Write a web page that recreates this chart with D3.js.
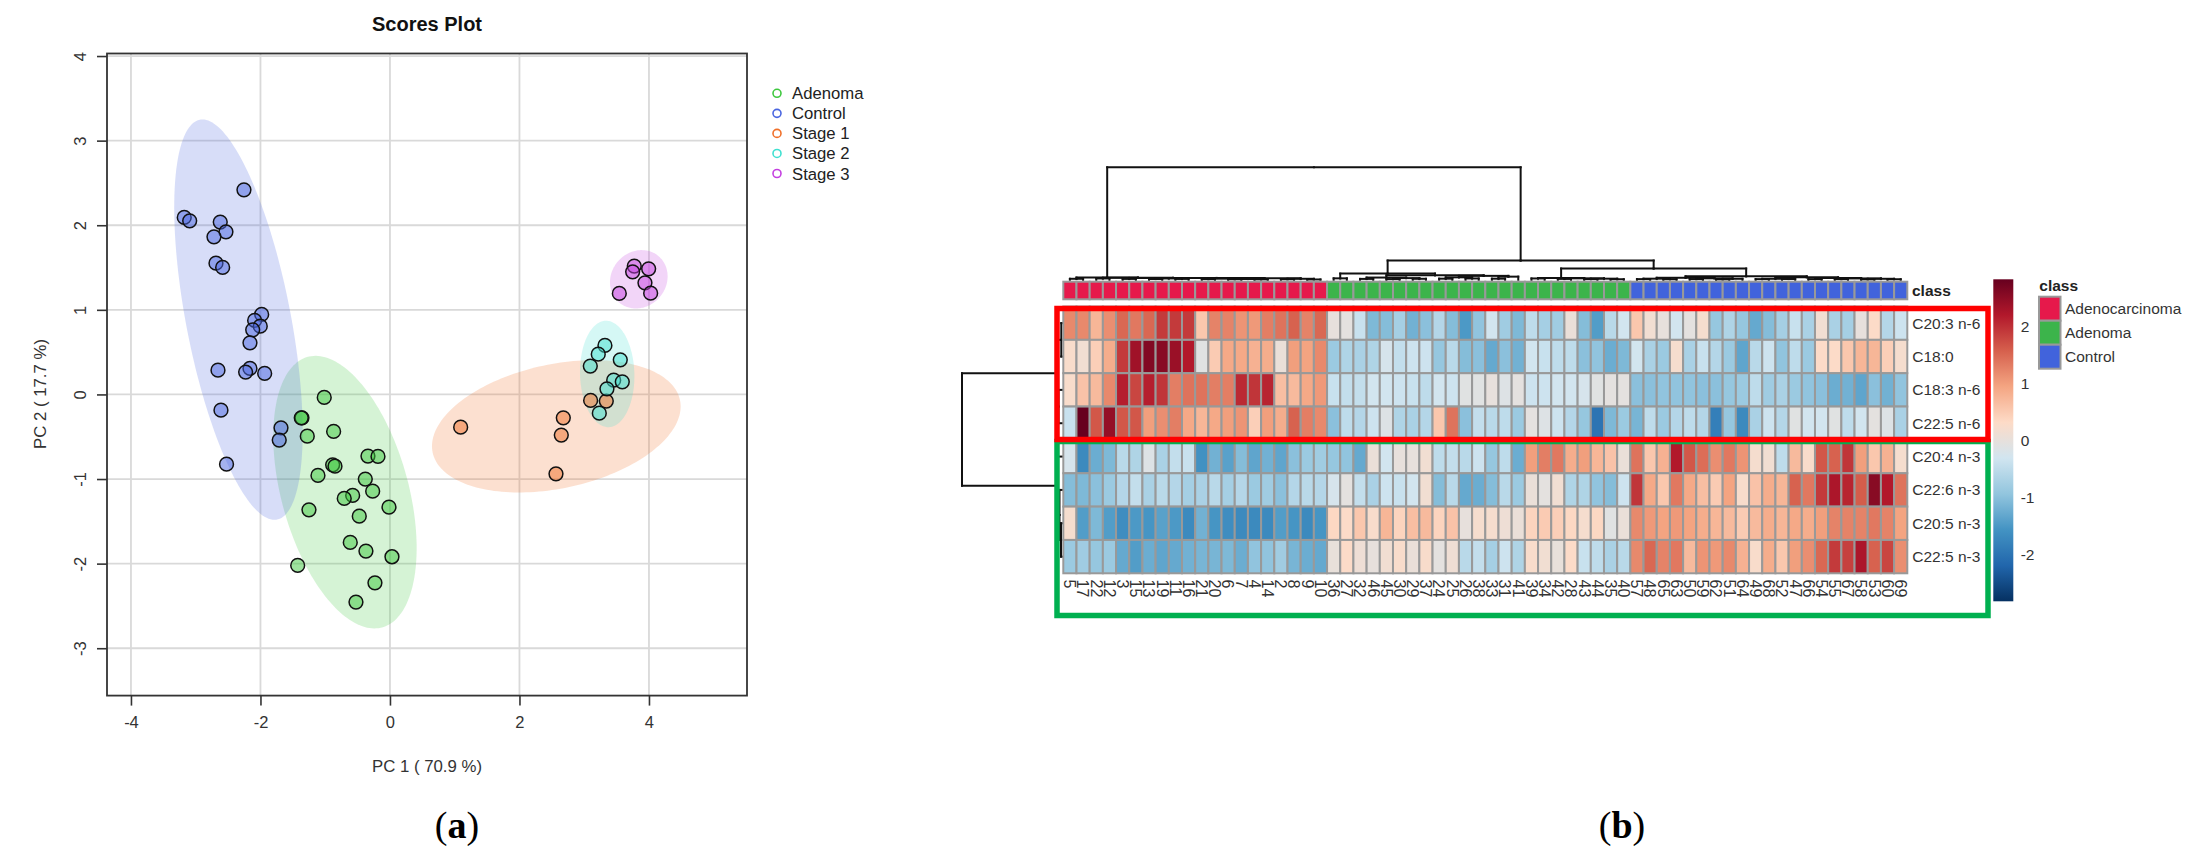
<!DOCTYPE html>
<html><head><meta charset="utf-8">
<script src="https://cdn.jsdelivr.net/npm/d3@7"></script>
<style>html,body{margin:0;padding:0;background:#fff}svg{display:block}text{font-family:"Liberation Sans",Arial,sans-serif}</style>
</head><body><svg id="c" width="2193" height="859"></svg>
<script>
// ---------- Panel (a) data: PCA scores [PC1, PC2]
const adenoma=[[-1.015,-.035],[-1.359,-.277],[-1.37,-.277],[-1.277,-.493],[-.87,-.437],[-.34,-.729],[-.185,-.733],[-.885,-.832],[-.849,-.848],[-1.112,-.957],[-.381,-1.001],[-.267,-1.143],[-.576,-1.194],[-.706,-1.229],[-.015,-1.332],[-1.251,-1.364],[-.474,-1.439],[-.613,-1.749],[-.371,-1.852],[.031,-1.919],[-1.425,-2.021],[-.232,-2.227],[-.525,-2.455]];
const control=[[-2.255,2.418],[-3.177,2.092],[-3.093,2.052],[-2.621,2.037],[-2.533,1.922],[-2.718,1.863],[-2.687,1.552],[-2.584,1.501],[-1.981,.946],[-2.09,.875],[-2.003,.807],[-2.12,.764],[-2.162,.61],[-2.656,.287],[-2.162,.307],[-2.229,.264],[-1.935,.248],[-1.683,-.395],[-1.71,-.54],[-2.61,-.186],[-2.524,-.824]];
const stage1=[[1.092,-.387],[2.677,-.277],[2.646,-.481],[2.564,-.939],[3.099,-.071],[3.341,-.079]];
const stage2=[[3.32,.579],[3.217,.476],[3.557,.409],[3.094,.335],[3.455,.169],[3.588,.149],[3.351,.066],[3.233,-.221]];
const stage3=[[3.773,1.517],[3.748,1.449],[3.995,1.485],[3.938,1.319],[4.026,1.197],[3.542,1.194]];
const groupNames=["Adenoma","Control","Stage 1","Stage 2","Stage 3"];
const groupColors=["#3ec83e","#4a66e0","#f0702a","#3fe0d0","#c440e0"];
const groupPoints=[adenoma,control,stage1,stage2,stage3];
// ellipse: centre x, centre y, sd-x, sd-y, correlation
const groupEllipses=[[-.695,-1.155,1.107,1.611,-.41],[-2.34,.884,.992,2.366,-.56],[2.569,-.377,1.92,.782,.3],[3.355,.242,.42,.629,-.04],[3.843,1.361,.445,.345,.1]];
const xTicks=[-4,-2,0,2,4];
const yTicks=[-3,-2,-1,0,1,2,3,4];

// ---------- Panel (b) data
const colLabels=[5,17,22,12,3,15,13,19,11,16,21,20,6,7,4,14,2,8,9,10,36,27,32,46,45,30,29,37,24,25,26,38,33,31,41,39,34,42,28,43,44,35,40,57,48,65,63,50,59,62,51,64,49,68,52,47,66,54,55,67,58,53,60,69];
const rowLabels=["C20:3 n-6","C18:0","C18:3 n-6","C22:5 n-6","C20:4 n-3","C22:6 n-3","C20:5 n-3","C22:5 n-3"];
const r_c203n6=[1.2,1.2,.75,1.15,1.5,1.35,1.5,1.9,1.9,1.9,.55,1.25,1.25,1.1,1.05,1.3,1.4,1.55,1.25,1.5, 0,-.05,-.4, -1.1,-1.05,-.75,-1.2,-1,-.6,-1.05,-1.5,-.95,-.3,-.8,-1.1,-.5,-.75,-.8,.05,-1.05,-1.45,-.55,-.3, .55,.15,0, -.3,-.05,.2,-.9,-.65,-.9,-1.3,-1.05,-.75,-.4,-.7,.15,-.7,-.75,0,.3,-.6,-.35];
const r_c180=[.25,.15,.45,.85,1.9,2.35,2.6,2.55,2.4,2.2,-.1,.5,.9,.9,.8,.85,.05,1,.95,1.2, -.85,-.65,-.7, -.65,-.25,-.45,-.35,-.35,-.9,-.55,-1.05,-1,-1.3,-1,-1.2,-.3,-.4,-.5,-.5,-1,-.95,-1.25,-1.1, -.3,-.7,-.85, .2,-.7,-.4,-.6,-.85,-1.35,-.55,-.35,-.95,-.5,-.85,.3,.3,.55,.75,.75,.45,.2];
const r_c183n6=[.25,.6,.7,1.2,2.15,1.8,2.15,1.95,1.3,1.4,1.4,1.3,1.3,2.05,1.95,2.1,.65,.7,.9,1.05, -.4,-.45,-.45, -.3,-.3,-.35,-.4,-.5,-.3,-.35,-.1,-.1,0,-.15,-.05,-.35,-.35,-.3,-.3,-.25,-.1,-.05,-.05, -1,-1,-.95, -.95,-.95,-1,-1,-.9,-.85,-.5,-.8,-.7,-.85,-.95,-1,-1.25,-1.2,-1.35,-1,-1.2,-.95];
const r_c225n6=[-.4,2.83,1.65,2.45,1.65,1.65,1,1.15,1.3,.9,.75,.9,1,1.1,.45,1,.85,1.55,1.3,1.2, -1,-.5,-.6, -.35,-.15,-.65,-.7,-.6,.55,1.4,-1,-.45,-.55,-.5,-.85,-.05,-.15,-.35,-.6,-.9,-2,-1.1,-.85, -1.15,-.5,-.85, -.6,-.5,-.6,-1.85,-.9,-1.7,-.7,-.35,-.6,-.1,-.3,-.3,-.1,-.5,-.3,-.05,-.15,-.7];
const r_c204n3=[-.25,-1.7,-1.25,-1.1,-.55,-.65,-.15,-.7,-.45,-.4,-1.6,-1.2,-1.4,-1.05,-1.35,-1.2,-1.35,-1,-.85,-.8, -.9,-.95,-1.3, .05,-.3,0,0,.15,-.5,-.45,-.55,-.35,-.9,-.5,-1.25,1,1.3,1.35,.85,1,.75,.6,.05, 1.4,.55,.8, 2.2,1.65,1.45,1.15,1.35,1.1,.2,.15,-.5,.7,.25,1.65,1.55,1.95,1,.55,.8,.2];
const r_c226n3=[-1.05,-1.1,-1,-.85,-.6,-.45,-.7,-.55,-.6,-.75,-.7,-.55,-.75,-.6,-.85,-.8,-1,-.6,-.55,-.6, -.25,-.05,-.45, -.7,-.35,-.4,-.3,.15,-1.05,-.55,-1.3,-1.25,-1.05,-.55,-.85,.05,-.05,.15,-.65,-.65,-.95,-1.05,-.35, 1.95,.9,.55, 1.35,.9,.65,.5,.95,.25,.6,.85,.75,1.55,1.35,1.9,2.25,2.1,1.6,2.55,2.2,1.4];
const r_c205n3=[.2,-1.45,-1.1,-1.45,-1.65,-1.5,-1.55,-1.4,-1.5,-1.7,-1.2,-1.55,-1.65,-1.7,-1.7,-1.7,-1.45,-1.55,-1.7,-1.55, .35,.3,.55, .25,.75,.4,.65,.7,.4,.6,0,.2,.2,.1,.05,.4,.5,.45,.35,.2,.35,-.1,.05, 1.2,1.05,.95, 1.05,.95,.85,.75,.7,.5,.7,.85,.75,.9,.85,1,1.25,1.25,1.25,1.35,1.25,.95];
const r_c225n3=[-.85,-.8,-.9,-.85,-1.3,-1.45,-1.25,-1.35,-1.3,-1.2,-1.15,-1.15,-1.1,-1.25,-.95,-.95,-.8,-1.15,-1.25,-1.3, .02,.3,.1, 0,.15,.25,.05,.25,-.05,.12,-.55,-.45,-.75,-.35,-.65,.25,.15,.02,.3,-.4,-.5,-.7,-.55, 1.2,1.5,1.25, 1.35,.7,1.1,1.05,1.2,.8,.25,.85,.55,1,1.15,1.5,1.9,1.85,2.25,1.55,1.8,1.15];
const heatRows=[r_c203n6,r_c180,r_c183n6,r_c225n6,r_c204n3,r_c226n3,r_c205n3,r_c225n3];
const classNames=["Adenocarcinoma","Adenoma","Control"];
const classColors=["#e6194b","#3cb44b","#4163dc"];
const classCounts=[20,23,21];
const rdbu=["#053061","#2166AC","#4393C3","#92C5DE","#D1E5F0","#FDDBC7","#F4A582","#D6604D","#B2182B","#67001F"];
const colorTicks=[-2,-1,0,1,2];
// dendrograms: [height, left, right]; a bare number is a leaf index
const colTree=[100,
 [2,[.9,0,1],[1.8,[1.2,2,3],[1.7,[.8,4,5],[1.5,[1.2,[.7,6,7],[.8,8,9]],[1.3,[1,[.6,10,11],[.7,[.5,12,13],[.4,14,15]]],[.9,[.5,16,17],[.3,18,19]]]]]]],
 [17.1,
  [5.5,[1.3,20,21],[4,[2,[.8,22,23],[1.5,[.6,24,25],[.9,26,27]]],[3.5,[2.2,[1,28,29],[1.2,30,31]],[2.8,[1,32,33],34]]]],
  [10,
   [1.6,[1.2,35,36],[1.3,[.8,37,38],[1,[.6,39,40],[.5,41,42]]]],
   [3.1,[1.8,[1,[.6,43,44],[.5,45,46]],[1.3,[.6,47,48],[.9,[.4,49,50],51]]],
        [2.2,[.9,[.6,52,53],[.7,54,55]],[1.6,[.6,56,57],[1.2,[.6,58,59],[.9,[.4,60,61],[.5,62,63]]]]]]]]];
const rowTree=[100,[6,[1.2,0,1],[4,2,3]],[5,4,[3,5,[1.5,6,7]]]];

const svg=d3.select("#c");
// ---------- Panel (a)
const x=d3.scaleLinear().domain([-4.37,5.514]).range([107,747]);
const y=d3.scaleLinear().domain([-3.56,4.03]).range([695.6,53.5]);
const pa=svg.append("g");
pa.append("g").selectAll("line").data(xTicks).join("line").attr("x1",d=>x(d)).attr("x2",d=>x(d)).attr("y1",y.range()[0]).attr("y2",y.range()[1]).attr("stroke","#d9d9d9").attr("stroke-width",1.8);
pa.append("g").selectAll("line").data(yTicks).join("line").attr("y1",d=>y(d)).attr("y2",d=>y(d)).attr("x1",x.range()[0]).attr("x2",x.range()[1]).attr("stroke","#d9d9d9").attr("stroke-width",1.8);
const ellLine=d3.line().x(d=>x(d[0])).y(d=>y(d[1])).curve(d3.curveLinearClosed);
const ts=d3.range(0,2*Math.PI,Math.PI/90);
pa.append("g").selectAll("path").data(groupEllipses).join("path")
 .attr("d",e=>ellLine(ts.map(t=>[e[0]+e[2]*Math.cos(t),e[1]+e[3]*Math.cos(t+Math.acos(e[4]))])))
 .attr("fill",(e,i)=>groupColors[i]).attr("fill-opacity",.22);
groupPoints.forEach((pts,i)=>{
 pa.append("g").selectAll("circle").data(pts).join("circle")
  .attr("cx",d=>x(d[0])).attr("cy",d=>y(d[1])).attr("r",6.9)
  .attr("fill",groupColors[i]).attr("fill-opacity",.5).attr("stroke","#111").attr("stroke-width",1.5);
});
const axB=pa.append("g").attr("transform",`translate(0,${y.range()[0]})`).call(d3.axisBottom(x).tickValues(xTicks).tickSize(10).tickPadding(11).tickFormat(d=>String(d)));
const axL=pa.append("g").attr("transform",`translate(${x.range()[0]},0)`).call(d3.axisLeft(y).tickValues(yTicks).tickSize(10).tickFormat(d=>String(d)));
[axB,axL].forEach(a=>{a.select(".domain").remove();a.selectAll("line").attr("stroke","#333").attr("stroke-width",1.6);a.selectAll("text").attr("font-size",16.5).attr("fill","#333").style("font-family",'"Liberation Sans"');});
axL.selectAll("text").attr("x",0).attr("y",0).attr("dy",0).attr("text-anchor","middle").attr("transform",function(d){return `translate(-21,0) rotate(-90)`;});
pa.append("rect").attr("x",107).attr("y",53.5).attr("width",640).attr("height",642.1).attr("fill","none").attr("stroke","#333").attr("stroke-width",1.8);
pa.append("text").attr("x",427).attr("y",30.5).attr("text-anchor","middle").attr("font-size",20).attr("font-weight","bold").attr("fill","#111").text("Scores Plot");
pa.append("text").attr("x",427).attr("y",772).attr("text-anchor","middle").attr("font-size",16.8).attr("fill","#333").text("PC 1 ( 70.9 %)");
pa.append("text").attr("transform","translate(46,394) rotate(-90)").attr("text-anchor","middle").attr("font-size",16.8).attr("fill","#333").text("PC 2 ( 17.7 %)");
const lgY=d3.scalePoint().domain(groupNames).range([93.3,173.5]);
const lg=pa.append("g").selectAll("g").data(groupNames).join("g").attr("transform",d=>`translate(777,${lgY(d)})`);
lg.append("circle").attr("r",4).attr("fill","none").attr("stroke",(d,i)=>groupColors[i]).attr("stroke-width",1.6);
lg.append("text").attr("x",15).attr("y",6).attr("font-size",16.7).attr("fill","#222").text(d=>d);
svg.append("text").attr("x",457).attr("y",838).attr("text-anchor","middle").attr("font-size",38).style("font-family",'"Liberation Serif"').attr("fill","#000").html('(<tspan font-weight="bold">a</tspan>)');
svg.append("text").attr("x",1622).attr("y",838).attr("text-anchor","middle").attr("font-size",38).style("font-family",'"Liberation Serif"').attr("fill","#000").html('(<tspan font-weight="bold">b</tspan>)');

// ---------- Panel (b)
const pb=svg.append("g");
const cx=d3.scaleBand().domain(d3.range(colLabels.length)).range([1063.3,1907.3]);
const ry=d3.scaleBand().domain(d3.range(rowLabels.length)).range([306.5,573.3]);
const step=5.66/(rdbu.length-1);
const color=d3.scaleLinear().domain(rdbu.map((c,i)=>-2.83+i*step)).range(rdbu).clamp(true);
const cls=[];classCounts.forEach((n,i)=>{for(let k=0;k<n;k++)cls.push(i);});
// dendrograms
function layout(n,leafPos){ if(typeof n==="number")return {p:leafPos(n),h:0,kids:[]};
 const a=layout(n[1],leafPos),b=layout(n[2],leafPos);return {p:(a.p+b.p)/2,h:n[0],kids:[a,b]};}
function segs(nd,out){nd.kids.forEach(k=>{out.push([nd.p,nd.h,k.p,nd.h]);out.push([k.p,nd.h,k.p,k.h]);segs(k,out);});return out;}
const colH=d3.scaleLinear().domain([0,100]).range([279.8,167.3]);
const rowH=d3.scaleLinear().domain([0,100]).range([1062.5,962]);
pb.append("g").selectAll("line").data(segs(layout(colTree,i=>cx(i)+cx.bandwidth()/2),[])).join("line")
 .attr("x1",d=>d[0]).attr("x2",d=>d[2]).attr("y1",d=>colH(d[1])).attr("y2",d=>colH(d[3])).attr("stroke","#111").attr("stroke-width",2).attr("stroke-linecap","square");
pb.append("g").selectAll("line").data(segs(layout(rowTree,i=>ry(i)+ry.bandwidth()/2),[])).join("line")
 .attr("y1",d=>d[0]).attr("y2",d=>d[2]).attr("x1",d=>rowH(d[1])).attr("x2",d=>rowH(d[3])).attr("stroke","#111").attr("stroke-width",2).attr("stroke-linecap","square");
// class bar
pb.append("g").selectAll("rect").data(cls).join("rect").attr("x",(d,i)=>cx(i)).attr("y",281.7).attr("width",cx.bandwidth()).attr("height",17.6)
 .attr("fill",d=>classColors[d]).attr("stroke","#999").attr("stroke-width",2);
pb.append("text").attr("x",1912).attr("y",296).attr("font-size",15.5).attr("font-weight","bold").attr("fill","#222").text("class");
// heatmap cells
heatRows.forEach((row,r)=>{
 pb.append("g").selectAll("rect").data(row).join("rect").attr("x",(d,i)=>cx(i)).attr("y",ry(r)).attr("width",cx.bandwidth()).attr("height",ry.bandwidth())
  .attr("fill",d=>color(d)).attr("stroke","#999").attr("stroke-width",2);
});
pb.append("g").selectAll("text").data(rowLabels).join("text").attr("x",1912.3).attr("y",(d,i)=>ry(i)+ry.bandwidth()/2+5.5).attr("font-size",15.5).attr("fill","#333").text(d=>d);
pb.append("g").selectAll("text").data(colLabels).join("text")
 .attr("transform",(d,i)=>`translate(${cx(i)+cx.bandwidth()/2-5.7},579.5) rotate(90)`).attr("font-size",16).attr("fill","#333").text(d=>d);
// highlight boxes
pb.append("rect").attr("x",1057).attr("y",441.5).attr("width",931).attr("height",174).attr("fill","none").attr("stroke","#00b050").attr("stroke-width",5.5);
pb.append("rect").attr("x",1057).attr("y",308.5).attr("width",931).attr("height",131).attr("fill","none").attr("stroke","#ff0000").attr("stroke-width",5.5);
// colour bar
const barY=d3.scaleLinear().domain([-2.83,2.83]).range([601.3,279.3]);
const defs=svg.append("defs");
const gr=defs.append("linearGradient").attr("id","cb").attr("x1",0).attr("x2",0).attr("y1",1).attr("y2",0);
gr.selectAll("stop").data(rdbu).join("stop").attr("offset",(d,i)=>i/(rdbu.length-1)).attr("stop-color",d=>d);
pb.append("rect").attr("x",1993.3).attr("y",barY(2.83)).attr("width",20).attr("height",barY(-2.83)-barY(2.83)).attr("fill","url(#cb)");
pb.append("g").selectAll("text").data(colorTicks).join("text").attr("x",2020.7).attr("y",d=>barY(d)+5.5).attr("font-size",15.5).attr("fill","#333").text(d=>d);
// class legend
pb.append("text").attr("x",2039.3).attr("y",291).attr("font-size",15.5).attr("font-weight","bold").attr("fill","#222").text("class");
const lgRow=d3.scaleBand().domain(classNames).range([296.7,368.7]);
pb.append("g").selectAll("rect").data(classNames).join("rect").attr("x",2039).attr("y",d=>lgRow(d)).attr("width",21.5).attr("height",lgRow.bandwidth()).attr("fill",(d,i)=>classColors[i]).attr("stroke","#999").attr("stroke-width",2);
pb.append("g").selectAll("text").data(classNames).join("text").attr("x",2065).attr("y",d=>lgRow(d)+lgRow.bandwidth()/2+5.5).attr("font-size",15.5).attr("fill","#333").text(d=>d);
</script></body></html>
